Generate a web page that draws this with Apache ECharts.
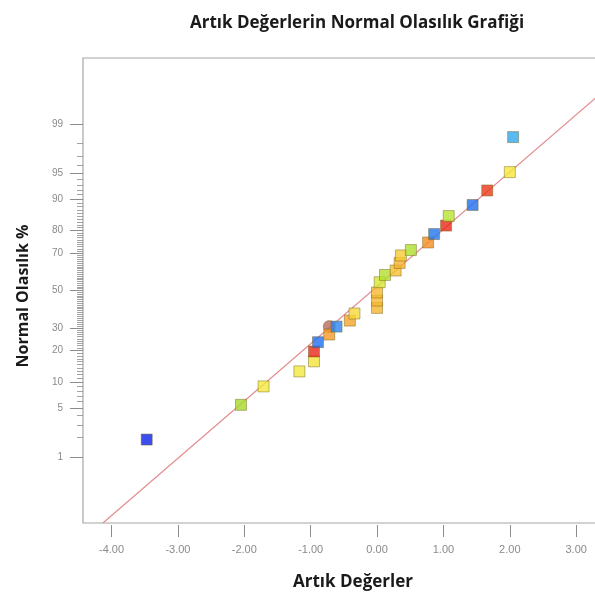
<!DOCTYPE html>
<html>
<head>
<meta charset="utf-8">
<script src="https://cdn.jsdelivr.net/npm/echarts@6/dist/echarts.min.js"></script>
<style>
  html, body { margin: 0; padding: 0; background: #ffffff; }
  #chart { width: 595px; height: 597px; }
</style>
</head>
<body>
<div id="chart"></div>
<script>
// Residuals (sorted by rank) and their normal probability in percent
const residuals = [-3.47, -2.05, -1.71, -1.17, -0.95, -0.95, -0.89, -0.72, -0.72, -0.61,
                   -0.41, -0.34, 0.00, 0.00, 0.00, 0.04, 0.12, 0.28, 0.34, 0.36,
                   0.51, 0.77, 0.86, 1.04, 1.08, 1.44, 1.66, 2.00, 2.05];
const probabilityPct = [1.86, 5.5, 9.0, 12.9, 16.1, 19.7, 23.5, 30.7, 26.9, 30.7,
                        33.7, 37.4, 40.4, 44.4, 48.9, 54.6, 58.6, 61.0, 65.0, 68.8,
                        71.4, 74.9, 78.5, 81.8, 85.1, 88.4, 91.9, 95.1, 98.4];

// Point colours, one per run
const pointColors = ['#0b22ea', '#a8d92c', '#f3ea3e', '#f3e83c', '#f5e23a', '#e8261a', '#1f6ff0', '#b86a60', '#f59a28', '#2a86f0',
                     '#f5a62a', '#f6d838', '#f6b430', '#f6b830', '#f6b830', '#d6e632', '#b2e030', '#f5c030', '#f5b030', '#f6cc36',
                     '#aee030', '#f58c20', '#2277ee', '#e82818', '#b8e232', '#1e6ff0', '#ea3a18', '#f6e838', '#30a8ec'];

// Reference line endpoints (residual vs. normal score)
const fitLineResidual = [-4.13, 3.99];
const fitLineScore = [-3.25, 3.25];

// Axis tick labels
const probTicks = [1, 5, 10, 20, 30, 50, 70, 80, 90, 95, 99];
const residualTicks = [-4, -3, -2, -1, 0, 1, 2, 3];

// Inverse standard normal CDF (Acklam's rational approximation)
function probit(p) {
  const a = [-3.969683028665376e+01, 2.209460984245205e+02, -2.759285104469687e+02, 1.383577518672690e+02, -3.066479806614716e+01, 2.506628277459239e+00];
  const b = [-5.447609879822406e+01, 1.615858368580409e+02, -1.556989798598866e+02, 6.680131188771972e+01, -1.328068155288572e+01];
  const c = [-7.784894002430293e-03, -3.223964580411365e-01, -2.400758277161838e+00, -2.549732539343734e+00, 4.374664141464968e+00, 2.938163982698783e+00];
  const d = [7.784695709041462e-03, 3.224671290700398e-01, 2.445134137142996e+00, 3.754408661907416e+00];
  const pl = 0.02425, ph = 1 - pl;
  let q, r;
  if (p < pl) {
    q = Math.sqrt(-2 * Math.log(p));
    return (((((c[0]*q + c[1])*q + c[2])*q + c[3])*q + c[4])*q + c[5]) / ((((d[0]*q + d[1])*q + d[2])*q + d[3])*q + 1);
  }
  if (p <= ph) {
    q = p - 0.5; r = q * q;
    return (((((a[0]*r + a[1])*r + a[2])*r + a[3])*r + a[4])*r + a[5])*q / (((((b[0]*r + b[1])*r + b[2])*r + b[3])*r + b[4])*r + 1);
  }
  q = Math.sqrt(-2 * Math.log(1 - p));
  return -(((((c[0]*q + c[1])*q + c[2])*q + c[3])*q + c[4])*q + c[5]) / ((((d[0]*q + d[1])*q + d[2])*q + d[3])*q + 1);
}

const majorScores = probTicks.map(p => probit(p / 100));
const minorScores = [];
for (let p = 2; p <= 98; p++) {
  if (probTicks.indexOf(p) < 0) minorScores.push(probit(p / 100));
}

function scoreLabel(v) {
  for (let i = 0; i < majorScores.length; i++) {
    if (Math.abs(majorScores[i] - v) < 1e-6) return String(probTicks[i]);
  }
  return '';
}

const points = residuals.map((r, i) => ({
  value: [r, probit(probabilityPct[i] / 100)],
  symbol: pointColors[i] === '#b86a60' ? 'circle' : 'rect',
  symbolSize: pointColors[i] === '#b86a60' ? 12 : 11,
  itemStyle: { color: pointColors[i] }
}));

const tickColor = '#8c8c8c';
const labelColor = '#8a8a8a';

const chart = echarts.init(document.getElementById('chart'), null, { renderer: 'canvas' });
chart.setOption({
  animation: false,
  backgroundColor: '#ffffff',
  title: {
    text: 'Artık Değerlerin Normal Olasılık Grafiği',
    left: 352, top: 10, textAlign: 'center',
    textStyle: { fontFamily: 'Open Sans', fontWeight: 'bold', fontSize: 17, color: '#1a1a1a' }
  },
  graphic: [
    {
      type: 'text', x: 353, y: 582,
      style: { text: 'Artık Değerler', fontFamily: 'Open Sans', fontWeight: 'bold', fontSize: 17,
               fill: '#1a1a1a', textAlign: 'center', textVerticalAlign: 'middle' }
    },
    {
      type: 'text', x: 23, y: 296, rotation: Math.PI / 2,
      style: { text: 'Normal Olasılık %', fontFamily: 'Open Sans', fontWeight: 'bold', fontSize: 16,
               fill: '#1a1a1a', textAlign: 'center', textVerticalAlign: 'middle' }
    }
  ],
  grid: {
    left: 83, top: 58, width: 533, height: 465,
    outerBoundsMode: 'none', containLabel: false,
    show: true, borderColor: '#a6a6a6', borderWidth: 1.2, backgroundColor: '#ffffff'
  },
  xAxis: {
    type: 'value', min: -4.43, max: 3.6, offset: 2,
    axisLine: { show: false, onZero: false },
    splitLine: { show: false },
    axisTick: { show: true, customValues: residualTicks, length: 12, lineStyle: { color: tickColor, width: 1 } },
    axisLabel: { customValues: residualTicks, formatter: v => v.toFixed(2), color: labelColor,
                 fontFamily: 'Liberation Sans', fontSize: 11, margin: 19 }
  },
  yAxis: [
    {
      type: 'value', min: -3.25, max: 3.25, position: 'left',
      axisLine: { show: false, onZero: false },
      splitLine: { show: false },
      axisTick: { show: true, customValues: majorScores, length: 13, lineStyle: { color: tickColor, width: 1 } },
      axisLabel: { customValues: majorScores, formatter: scoreLabel, color: labelColor,
                   fontFamily: 'Liberation Sans', fontSize: 10, margin: 20 }
    },
    {
      type: 'value', min: -3.25, max: 3.25, position: 'left', offset: 0,
      axisLine: { show: false, onZero: false },
      splitLine: { show: false },
      axisTick: { show: true, customValues: minorScores, length: 6, lineStyle: { color: tickColor, width: 0.8 } },
      axisLabel: { show: false }
    }
  ],
  series: [
    {
      type: 'line',
      data: fitLineResidual.map((r, i) => [r, fitLineScore[i]]),
      symbol: 'none', clip: true, silent: true,
      lineStyle: { color: '#e3888c', width: 1.1 },
      z: 1
    },
    {
      type: 'scatter',
      data: points,
      itemStyle: { borderColor: 'rgba(110, 95, 20, 0.55)', borderWidth: 1 },
      z: 2
    }
  ]
});
</script>
</body>
</html>
